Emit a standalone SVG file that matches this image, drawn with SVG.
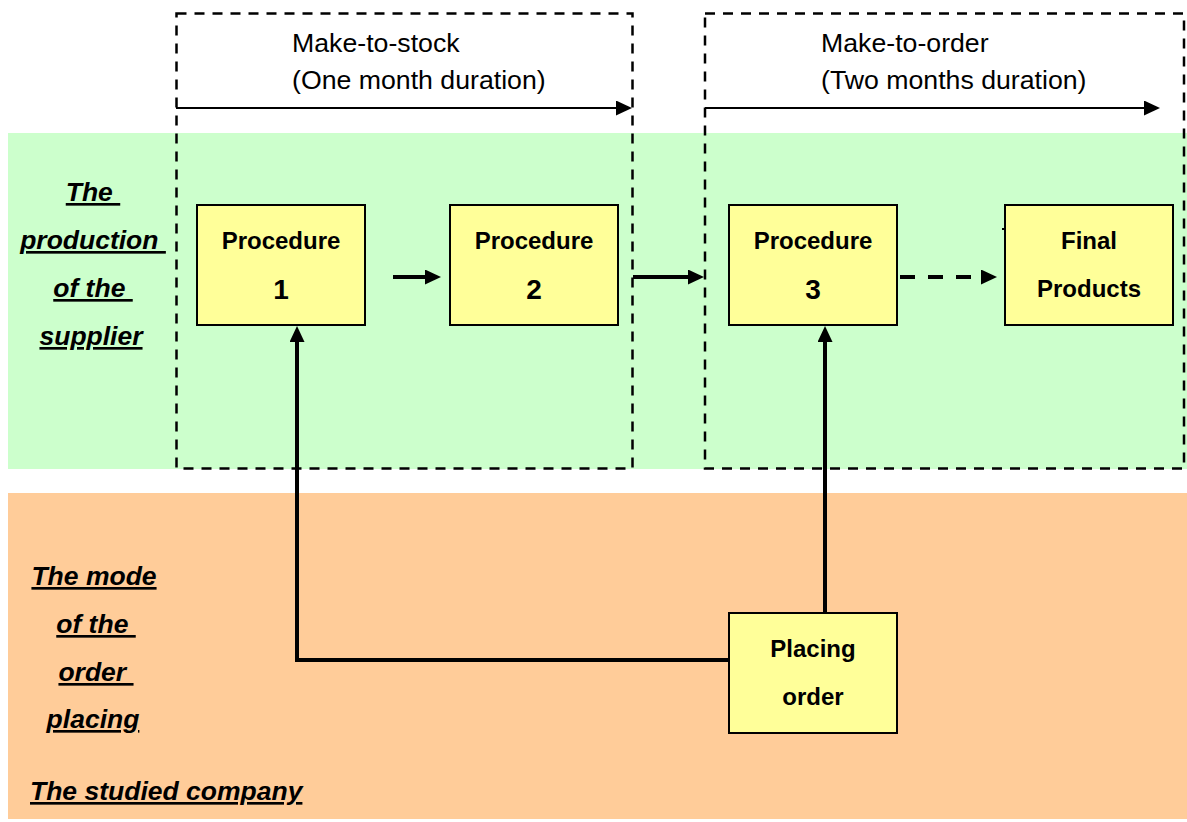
<svg xmlns="http://www.w3.org/2000/svg" width="1187" height="822" viewBox="0 0 1187 822">
  <defs>
    <style>
      .band-supplier { fill: #CCFFCC; }
      .band-company { fill: #FFCC99; }
      .phase { fill: none; stroke: #000; stroke-width: 2.5; stroke-dasharray: 10 8; }
      .timeline { fill: none; stroke: #000; stroke-width: 2; }
      .flow { fill: none; stroke: #000; stroke-width: 4; }
      .flow-dashed { fill: none; stroke: #000; stroke-width: 4; stroke-dasharray: 15 13; }
      .box { fill: #FFFF99; stroke: #000; stroke-width: 2; }
      .phase-text { font-family: "Liberation Sans", Arial, sans-serif; font-size: 26.7px; fill: #000; }
      .box-text { font-family: "Liberation Sans", Arial, sans-serif; font-size: 24px; font-weight: bold; fill: #000; text-anchor: middle; }
      .box-num { font-family: "Liberation Sans", Arial, sans-serif; font-size: 28px; font-weight: bold; fill: #000; text-anchor: middle; }
      .side-label { font-family: "Liberation Sans", Arial, sans-serif; font-size: 26.5px; font-weight: bold; font-style: italic; fill: #000; text-decoration: underline; text-decoration-thickness: 3px; white-space: pre; }
    </style>
    <marker id="head" markerUnits="userSpaceOnUse" markerWidth="16" markerHeight="15" refX="1" refY="7.5" orient="auto">
      <path d="M0,0 L16,7.5 L0,15 z" fill="#000"/>
    </marker>
  </defs>

  <!-- swimlane backgrounds -->
  <rect class="band-supplier" x="8" y="133" width="1179" height="336"/>
  <rect class="band-company" x="8" y="493" width="1179" height="326"/>

  <!-- lane labels -->
  <g id="label-supplier">
    <text class="side-label" x="93" y="201" text-anchor="middle">The </text>
    <text class="side-label" x="93" y="249" text-anchor="middle">production </text>
    <text class="side-label" x="93" y="297" text-anchor="middle">of the </text>
    <text class="side-label" x="91" y="345" text-anchor="middle">supplier</text>
  </g>
  <g id="label-company">
    <text class="side-label" x="94" y="585" text-anchor="middle">The mode</text>
    <text class="side-label" x="96" y="633" text-anchor="middle">of the </text>
    <text class="side-label" x="96" y="681" text-anchor="middle">order </text>
    <text class="side-label" x="93" y="728" text-anchor="middle">placing</text>
    <text class="side-label" x="30" y="800">The studied company</text>
  </g>

  <!-- phase frames -->
  <g id="phase-mts">
    <rect class="phase" x="176.5" y="13.5" width="456" height="455"/>
    <text class="phase-text" x="292" y="52">Make-to-stock</text>
    <text class="phase-text" x="292" y="89">(One month duration)</text>
  </g>
  <g id="phase-mto">
    <rect class="phase" x="705" y="13.5" width="479" height="455"/>
    <text class="phase-text" x="821" y="52">Make-to-order</text>
    <text class="phase-text" x="821" y="89">(Two months duration)</text>
  </g>

  <!-- connectors -->
  <g id="connectors">
    <line class="timeline" x1="176" y1="108" x2="617" y2="108" marker-end="url(#head)"/>
    <line class="timeline" x1="705" y1="108" x2="1145" y2="108" marker-end="url(#head)"/>
    <line class="flow" x1="393" y1="277" x2="426" y2="277" marker-end="url(#head)"/>
    <line class="flow" x1="633" y1="277" x2="689" y2="277" marker-end="url(#head)"/>
    <line class="flow-dashed" x1="900" y1="277" x2="982" y2="277" marker-end="url(#head)"/>
    <polyline class="flow" points="729,660 297,660 297,341" marker-end="url(#head)"/>
    <line class="flow" x1="825" y1="613" x2="825" y2="341" marker-end="url(#head)"/>
    <line stroke="#000" stroke-width="2" x1="1002" y1="229" x2="1005" y2="229"/>
  </g>

  <!-- process nodes -->
  <g id="procedure-1">
    <rect class="box" x="197" y="205" width="168" height="120"/>
    <text class="box-text" x="281" y="249">Procedure</text>
    <text class="box-num" x="281" y="299">1</text>
  </g>
  <g id="procedure-2">
    <rect class="box" x="450" y="205" width="168" height="120"/>
    <text class="box-text" x="534" y="249">Procedure</text>
    <text class="box-num" x="534" y="299">2</text>
  </g>
  <g id="procedure-3">
    <rect class="box" x="729" y="205" width="168" height="120"/>
    <text class="box-text" x="813" y="249">Procedure</text>
    <text class="box-num" x="813" y="299">3</text>
  </g>
  <g id="final-products">
    <rect class="box" x="1005" y="205" width="168" height="120"/>
    <text class="box-text" x="1089" y="249">Final</text>
    <text class="box-text" x="1089" y="297">Products</text>
  </g>
  <g id="placing-order">
    <rect class="box" x="729" y="613" width="168" height="120"/>
    <text class="box-text" x="813" y="657">Placing</text>
    <text class="box-text" x="813" y="705">order</text>
  </g>
</svg>
